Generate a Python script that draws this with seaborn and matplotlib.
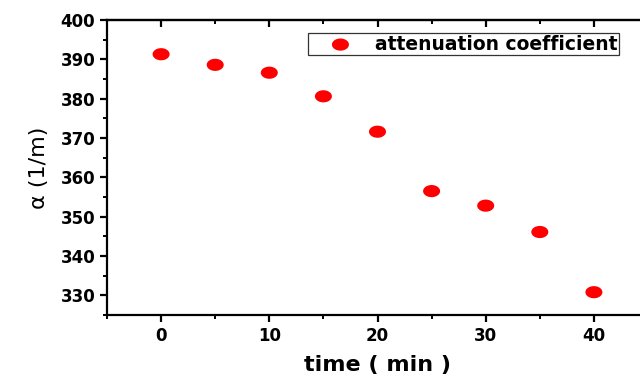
import numpy as np
import pandas as pd
import matplotlib
matplotlib.use("Agg")
import matplotlib.pyplot as plt
from matplotlib.path import Path
from matplotlib.ticker import MultipleLocator
import seaborn as sns

time_min = [0, 5, 10, 15, 20, 25, 30, 35, 40]
alpha_vals = [391.3, 388.6, 386.6, 380.6, 371.6, 356.5, 352.8, 346.1, 330.8]
series_label = "attenuation coefficient"
x_ticks = [0, 10, 20, 30, 40]
y_ticks = [330, 340, 350, 360, 370, 380, 390, 400]

sns.set_style("ticks")
plt.rcParams['font.family'] = ['DejaVu Sans']
plt.rcParams['text.color'] = 'black'
plt.rcParams['axes.labelcolor'] = 'black'
plt.rcParams['xtick.color'] = 'black'
plt.rcParams['ytick.color'] = 'black'

df = pd.DataFrame({"time": time_min, "alpha": alpha_vals})

# ellipse marker (wider than tall)
t = np.linspace(0, 2 * np.pi, 60)
verts = np.column_stack([1.4 * np.cos(t), np.sin(t)])
ellipse = Path(verts, closed=True)

fig = plt.figure(figsize=(6.4, 3.74), dpi=100)
ax = fig.add_axes([107 / 640, 59 / 374, 541 / 640, 295 / 374])

sns.scatterplot(data=df, x="time", y="alpha", ax=ax, color="#ff0000",
                marker=ellipse, s=150, edgecolor="none", linewidth=0,
                label=series_label, zorder=3)

ax.set_xlim(-5, 45)
ax.set_ylim(325, 400)
ax.set_xticks(x_ticks)
ax.set_yticks(y_ticks)
ax.xaxis.set_minor_locator(MultipleLocator(5))
ax.yaxis.set_minor_locator(MultipleLocator(5))

for s in ax.spines.values():
    s.set_linewidth(1.6)
    s.set_color("black")

ax.tick_params(axis="both", which="major", direction="out", length=5, width=1.6,
               labelsize=12, colors="black")
ax.tick_params(axis="both", which="minor", direction="out", length=3, width=1.4)
ax.tick_params(axis="x", which="both", top=False)
ax.tick_params(axis="y", which="both", right=False)
for lab in ax.get_xticklabels() + ax.get_yticklabels():
    lab.set_fontweight("bold")

# top mirror ticks point inward
secx = ax.secondary_xaxis("top")
secx.set_xticks(x_ticks)
secx.xaxis.set_minor_locator(MultipleLocator(5))
secx.tick_params(which="major", direction="in", length=5, width=1.6, labeltop=False)
secx.tick_params(which="minor", direction="in", length=3, width=1.4)
secx.set_xticklabels([])
secx.spines["top"].set_linewidth(1.6)

ax.set_xlabel("time ( min )", fontsize=16, fontweight="bold", labelpad=7,
              color="black")
ax.set_ylabel("α (1/m)", fontsize=16, labelpad=8, color="black")

leg = ax.legend(loc="upper left", bbox_to_anchor=(308 / 640, 1 - 33 / 374),
                bbox_transform=fig.transFigure, borderaxespad=0,
                frameon=True, fancybox=False, shadow=False,
                prop={"weight": "bold", "size": 13.5},
                borderpad=0.08, handletextpad=0.2, handlelength=3.3,
                markerscale=1.0)
leg.get_frame().set_edgecolor("black")
leg.get_frame().set_linewidth(0.9)
for txt in leg.get_texts():
    txt.set_color("black")

fig.savefig("out.png", dpi=100)
